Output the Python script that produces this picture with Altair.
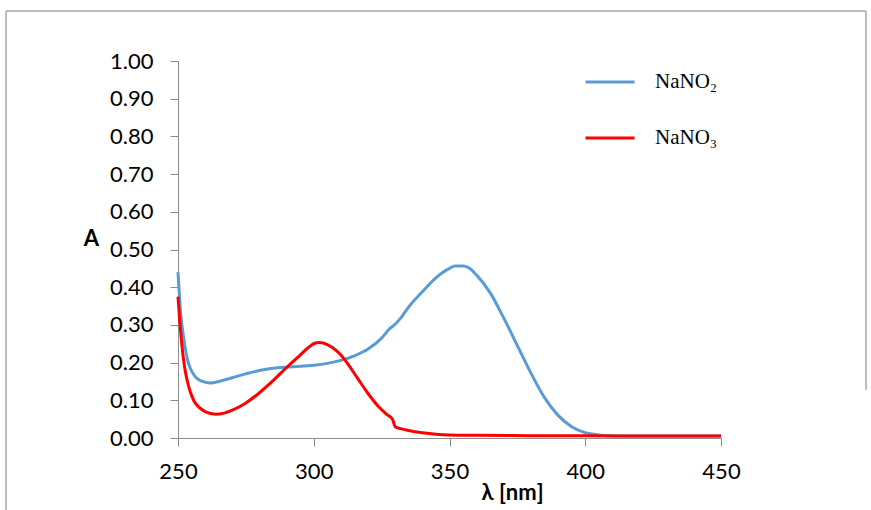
import altair as alt
import pandas as pd

# --- data ---
wl_no2 = [250, 251, 252, 253, 254, 255, 256, 257, 258, 260, 262, 265, 270, 275, 280, 285, 290, 295,
          300, 305, 310, 315, 320, 325, 328, 330, 332, 335, 340, 345, 350, 352, 355, 357, 360, 365,
          370, 375, 380, 385, 390, 395, 400, 405, 410, 420, 430, 440, 450]
a_no2 = [0.44, 0.33, 0.27, 0.225, 0.195, 0.178, 0.166, 0.158, 0.153, 0.148, 0.146, 0.150, 0.160, 0.170,
         0.179, 0.185, 0.188, 0.190, 0.193, 0.198, 0.206, 0.218, 0.236, 0.265, 0.290, 0.302, 0.318,
         0.348, 0.388, 0.425, 0.450, 0.456, 0.456, 0.452, 0.432, 0.385, 0.318, 0.245, 0.172, 0.107,
         0.060, 0.030, 0.014, 0.008, 0.006, 0.005, 0.005, 0.005, 0.005]

wl_no3 = [250, 251, 252, 253, 254, 255, 256, 258, 260, 262, 264, 267, 270, 275, 280, 285, 290, 295,
          298, 300, 302, 305, 308, 310, 313, 316, 320, 324, 327, 329, 330, 332, 335, 340, 345, 350,
          360, 380, 400, 420, 450]
a_no3 = [0.375, 0.28, 0.21, 0.165, 0.135, 0.113, 0.097, 0.080, 0.070, 0.065, 0.063, 0.066, 0.074,
         0.093, 0.120, 0.152, 0.187, 0.220, 0.240, 0.250, 0.253, 0.248, 0.234, 0.220, 0.192, 0.160,
         0.118, 0.082, 0.062, 0.050, 0.030, 0.025, 0.020, 0.014, 0.010, 0.008, 0.007, 0.006, 0.006,
         0.005, 0.005]

series_names = ["NaNO\u2082", "NaNO\u2083"]
series_colors = ["#5b9bd5", "#ff0000"]
x_ticks = [250, 300, 350, 400, 450]
y_ticks = [round(i * 0.1, 1) for i in range(11)]

df = pd.concat([
    pd.DataFrame({"wl": wl_no2, "A": a_no2, "s": series_names[0], "o": 0}),
    pd.DataFrame({"wl": wl_no3, "A": a_no3, "s": series_names[1], "o": 1}),
])

W, H = 543, 377
LEFT, TOP = 178, 61
FRAME = "#a6a6a6"
AX = "#8c8c8c"

lines = alt.Chart(df).mark_line(strokeWidth=3, interpolate="monotone").encode(
    x=alt.X("wl:Q", scale=alt.Scale(domain=[250, 450], nice=False, zero=False),
            axis=alt.Axis(values=x_ticks, title="\u03bb [nm]", grid=False, labelFlush=False,
                          domainColor=AX, tickColor=AX, tickSize=8, labelPadding=15,
                          labelFont="Lato", labelFontSize=22, labelColor="black",
                          titleFont="Lato", titleFontSize=22, titleFontWeight="bold",
                          titleColor="black", titleX=334, titleY=54,
                          titleBaseline="middle", titleAlign="center")),
    y=alt.Y("A:Q", scale=alt.Scale(domain=[0, 1], nice=False),
            axis=alt.Axis(values=y_ticks, format=".2f", title="A", grid=False, labelFlush=False,
                          domainColor=AX, tickColor=AX, tickSize=8, labelPadding=17,
                          labelFont="Lato", labelFontSize=22, labelColor="black",
                          titleFont="Lato", titleFontSize=22, titleFontWeight="bold",
                          titleColor="black", titleAngle=0, titleX=-87, titleY=177,
                          titleBaseline="middle", titleAlign="center")),
    color=alt.Color("s:N", scale=alt.Scale(domain=series_names, range=series_colors),
                    legend=alt.Legend(orient="none", legendX=406, legendY=-5, title=None,
                                      symbolType="stroke", symbolSize=2401,
                                      symbolStrokeWidth=3, labelFont="Liberation Serif",
                                      labelFontSize=21, labelColor="black", labelOffset=19,
                                      rowPadding=20)),
    order="o:Q",
)

one = pd.DataFrame({"k": [0]})
top_line = alt.Chart(one).mark_rule(color=FRAME, strokeWidth=1.5).encode(
    x=alt.value(6 - LEFT), x2=alt.value(866 - LEFT), y=alt.value(11 - TOP))
left_line = alt.Chart(one).mark_rule(color=FRAME, strokeWidth=1.5).encode(
    x=alt.value(6 - LEFT), y=alt.value(11 - TOP), y2=alt.value(530 - TOP))
right_line = alt.Chart(one).mark_rule(color=FRAME, strokeWidth=1.5).encode(
    x=alt.value(866 - LEFT), y=alt.value(11 - TOP), y2=alt.value(390 - TOP))

chart = alt.layer(top_line, left_line, right_line, lines).properties(
    width=W, height=H,
    autosize=alt.AutoSizeParams(type="none"),
    padding={"left": LEFT, "top": TOP, "right": 871 - LEFT - W, "bottom": 510 - TOP - H},
    background="white",
).configure_view(stroke=None)

chart.save("out.html", embed_options={"renderer": "svg", "actions": False})
